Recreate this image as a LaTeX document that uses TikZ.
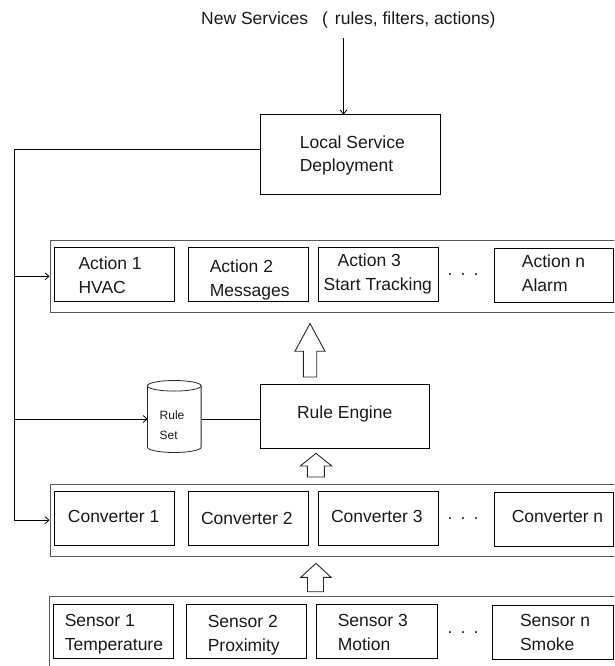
\documentclass[tikz,border=0pt]{standalone}
\usepackage{fontspec}
\setmainfont{Liberation Sans}
\usetikzlibrary{arrows.meta}
\begin{document}
\begin{tikzpicture}[x=1pt,y=-1pt,
  boxx/.style={draw=black, line width=1pt, minimum width=120pt, minimum height=54pt, inner sep=0pt},
  outerbox/.style={draw=black!65, line width=0.9pt, inner sep=0pt},
  txt/.style={font=\fontsize{17.5}{24}\selectfont, align=left, inner sep=0pt, text=black!90},
  small/.style={font=\fontsize{12}{20}\selectfont, align=left, inner sep=0pt, text=black!90},
  arr/.style={-{Straight Barb[length=4pt,width=7pt]}, line width=0.8pt},
  conn/.style={line width=0.8pt},
  blockarrow/.style={draw=black!85, line width=0.9pt, fill=white}]
\useasboundingbox (0,0) rectangle (614,666);
\clip (0,0) rectangle (614,666);

% title
\node[txt, anchor=west] (title) at (201,19.7) {New Services\hspace{14pt}(\hspace{7pt}rules, filters, actions)};

% local service deployment
\node[boxx, minimum width=180pt, minimum height=79pt] (lsd) at (350,154.5) {};
\node[txt, anchor=west, font=\fontsize{17.5}{23}\selectfont] (lsdt) at (299.6,155.5) {Local Service\\Deployment};

% actions
\node[outerbox, minimum width=590pt, minimum height=71.3pt] (aout) at (345,276.35) {};
\node[boxx] (a1) at (114.3,274.7) {};
\node[boxx] (a2) at (248.1,274.7) {};
\node[boxx] (a3) at (378,274.7) {};
\node[boxx, minimum width=119pt] (an) at (553.5,275.3) {};
\node[txt, anchor=west] (a1t) at (78.3,275) {Action 1\\HVAC};
\node[txt, anchor=west] (a2t) at (209.6,279.5) {Action 2\\Messages};
\node[txt, anchor=west] (a3t) at (323.5,274) {\hspace{14pt}Action 3\\Start Tracking};
\node[txt, anchor=west] (ant) at (521.7,273) {Action n\\Alarm};
\node[txt, anchor=base] (ad) at (463,275) {.\hspace{8.2pt}.\hspace{8.2pt}.};

% rule set and rule engine
\node[minimum width=53.6pt, minimum height=72pt, inner sep=0pt] (rs) at (174.5,416.7) {};
\draw[conn, black!85] (rs.north west) ++(0,5.3) coordinate (tl)
  (tl) arc[start angle=180, end angle=-180, x radius=26.8pt, y radius=5.3pt];
\draw[conn, black!85] (tl) -- ++(0,61.4) coordinate (bl)
  arc[start angle=180, end angle=360, x radius=26.8pt, y radius=5.3pt] -- ++(0,-61.4);
\node[small, anchor=west] (rst) at (159.5,425.5) {Rule\\Set};
\node[boxx, minimum width=169.2pt, minimum height=64pt] (re) at (345.1,416) {};
\node[txt] (ret) at (344.7,414.3) {Rule Engine};

% converters
\node[outerbox, minimum width=590pt, minimum height=71.7pt] (cout) at (345,520.15) {};
\node[boxx, minimum height=53.6pt] (c1) at (114.3,518.5) {};
\node[boxx, minimum height=53.6pt] (c2) at (248.1,518.5) {};
\node[boxx, minimum height=53.6pt] (c3) at (378,518.5) {};
\node[boxx, minimum width=119pt, minimum height=54.4pt] (cn) at (553.5,519.5) {};
\node[txt] (c1t) at (113.6,516) {Converter 1};
\node[txt] (c2t) at (246.8,518.3) {Converter 2};
\node[txt] (c3t) at (376.8,516) {Converter 3};
\node[txt] (cnt) at (557.5,516) {Converter n};
\node[txt, anchor=base] (cd) at (463,519.5) {.\hspace{8.2pt}.\hspace{8.2pt}.};

% sensors
\node[outerbox, minimum width=590.6pt, minimum height=110pt] (sout) at (344.7,651) {};
\node[boxx, minimum width=120.2pt, minimum height=54.3pt] (s1) at (113.4,631.2) {};
\node[boxx, minimum width=119.9pt, minimum height=54.3pt] (s2) at (246.8,631.2) {};
\node[boxx, minimum width=120.5pt, minimum height=54.3pt] (s3) at (376.8,631.2) {};
\node[boxx, minimum width=120.6pt, minimum height=54.3pt] (sn) at (552.7,632.2) {};
\node[txt, anchor=west] (s1t) at (64.6,634.2) {Sensor 1\\Temperature};
\node[txt, anchor=west] (s2t) at (207.6,635.5) {Sensor 2\\Proximity};
\node[txt, anchor=west] (s3t) at (337.6,632.8) {Sensor 3\\Motion};
\node[txt, anchor=west] (snt) at (519.8,632.8) {Sensor n\\Smoke};
\node[txt, anchor=base] (sd) at (463,633.5) {.\hspace{8.2pt}.\hspace{8.2pt}.};

% block arrows
\draw[blockarrow] (310,323.5) -- (325,351.2) -- (316.7,351.2) -- (316.7,377) -- (303.3,377) -- (303.3,351.2) -- (295,351.2) -- cycle;
\draw[blockarrow] (316,453.3) -- (331.7,466) -- (324.3,466) -- (324.3,477) -- (307.3,477) -- (307.3,466) -- (300.3,466) -- cycle;
\draw[blockarrow] (316,563.3) -- (331,577.3) -- (323.5,577.3) -- (323.5,591.7) -- (307.5,591.7) -- (307.5,577.3) -- (300.8,577.3) -- cycle;

% connectors
\coordinate (ttop) at (343.5,38);
\draw[arr] (ttop) -- (ttop |- lsd.north);
\coordinate (lsdl) at (260,149);
\coordinate (bus) at (14.5,149);
\draw[conn] (lsdl) -- (bus);
\draw[arr] (bus) |- (cout.west);
\draw[arr] (bus |- aout.west) -- (aout.west);
\coordinate (rsin) at (147.7,419);
\draw[arr] (bus |- rsin) -- (rsin);
\draw[conn] (rsin -| rs.east) -- (rsin -| re.west);
\end{tikzpicture}
\end{document}
